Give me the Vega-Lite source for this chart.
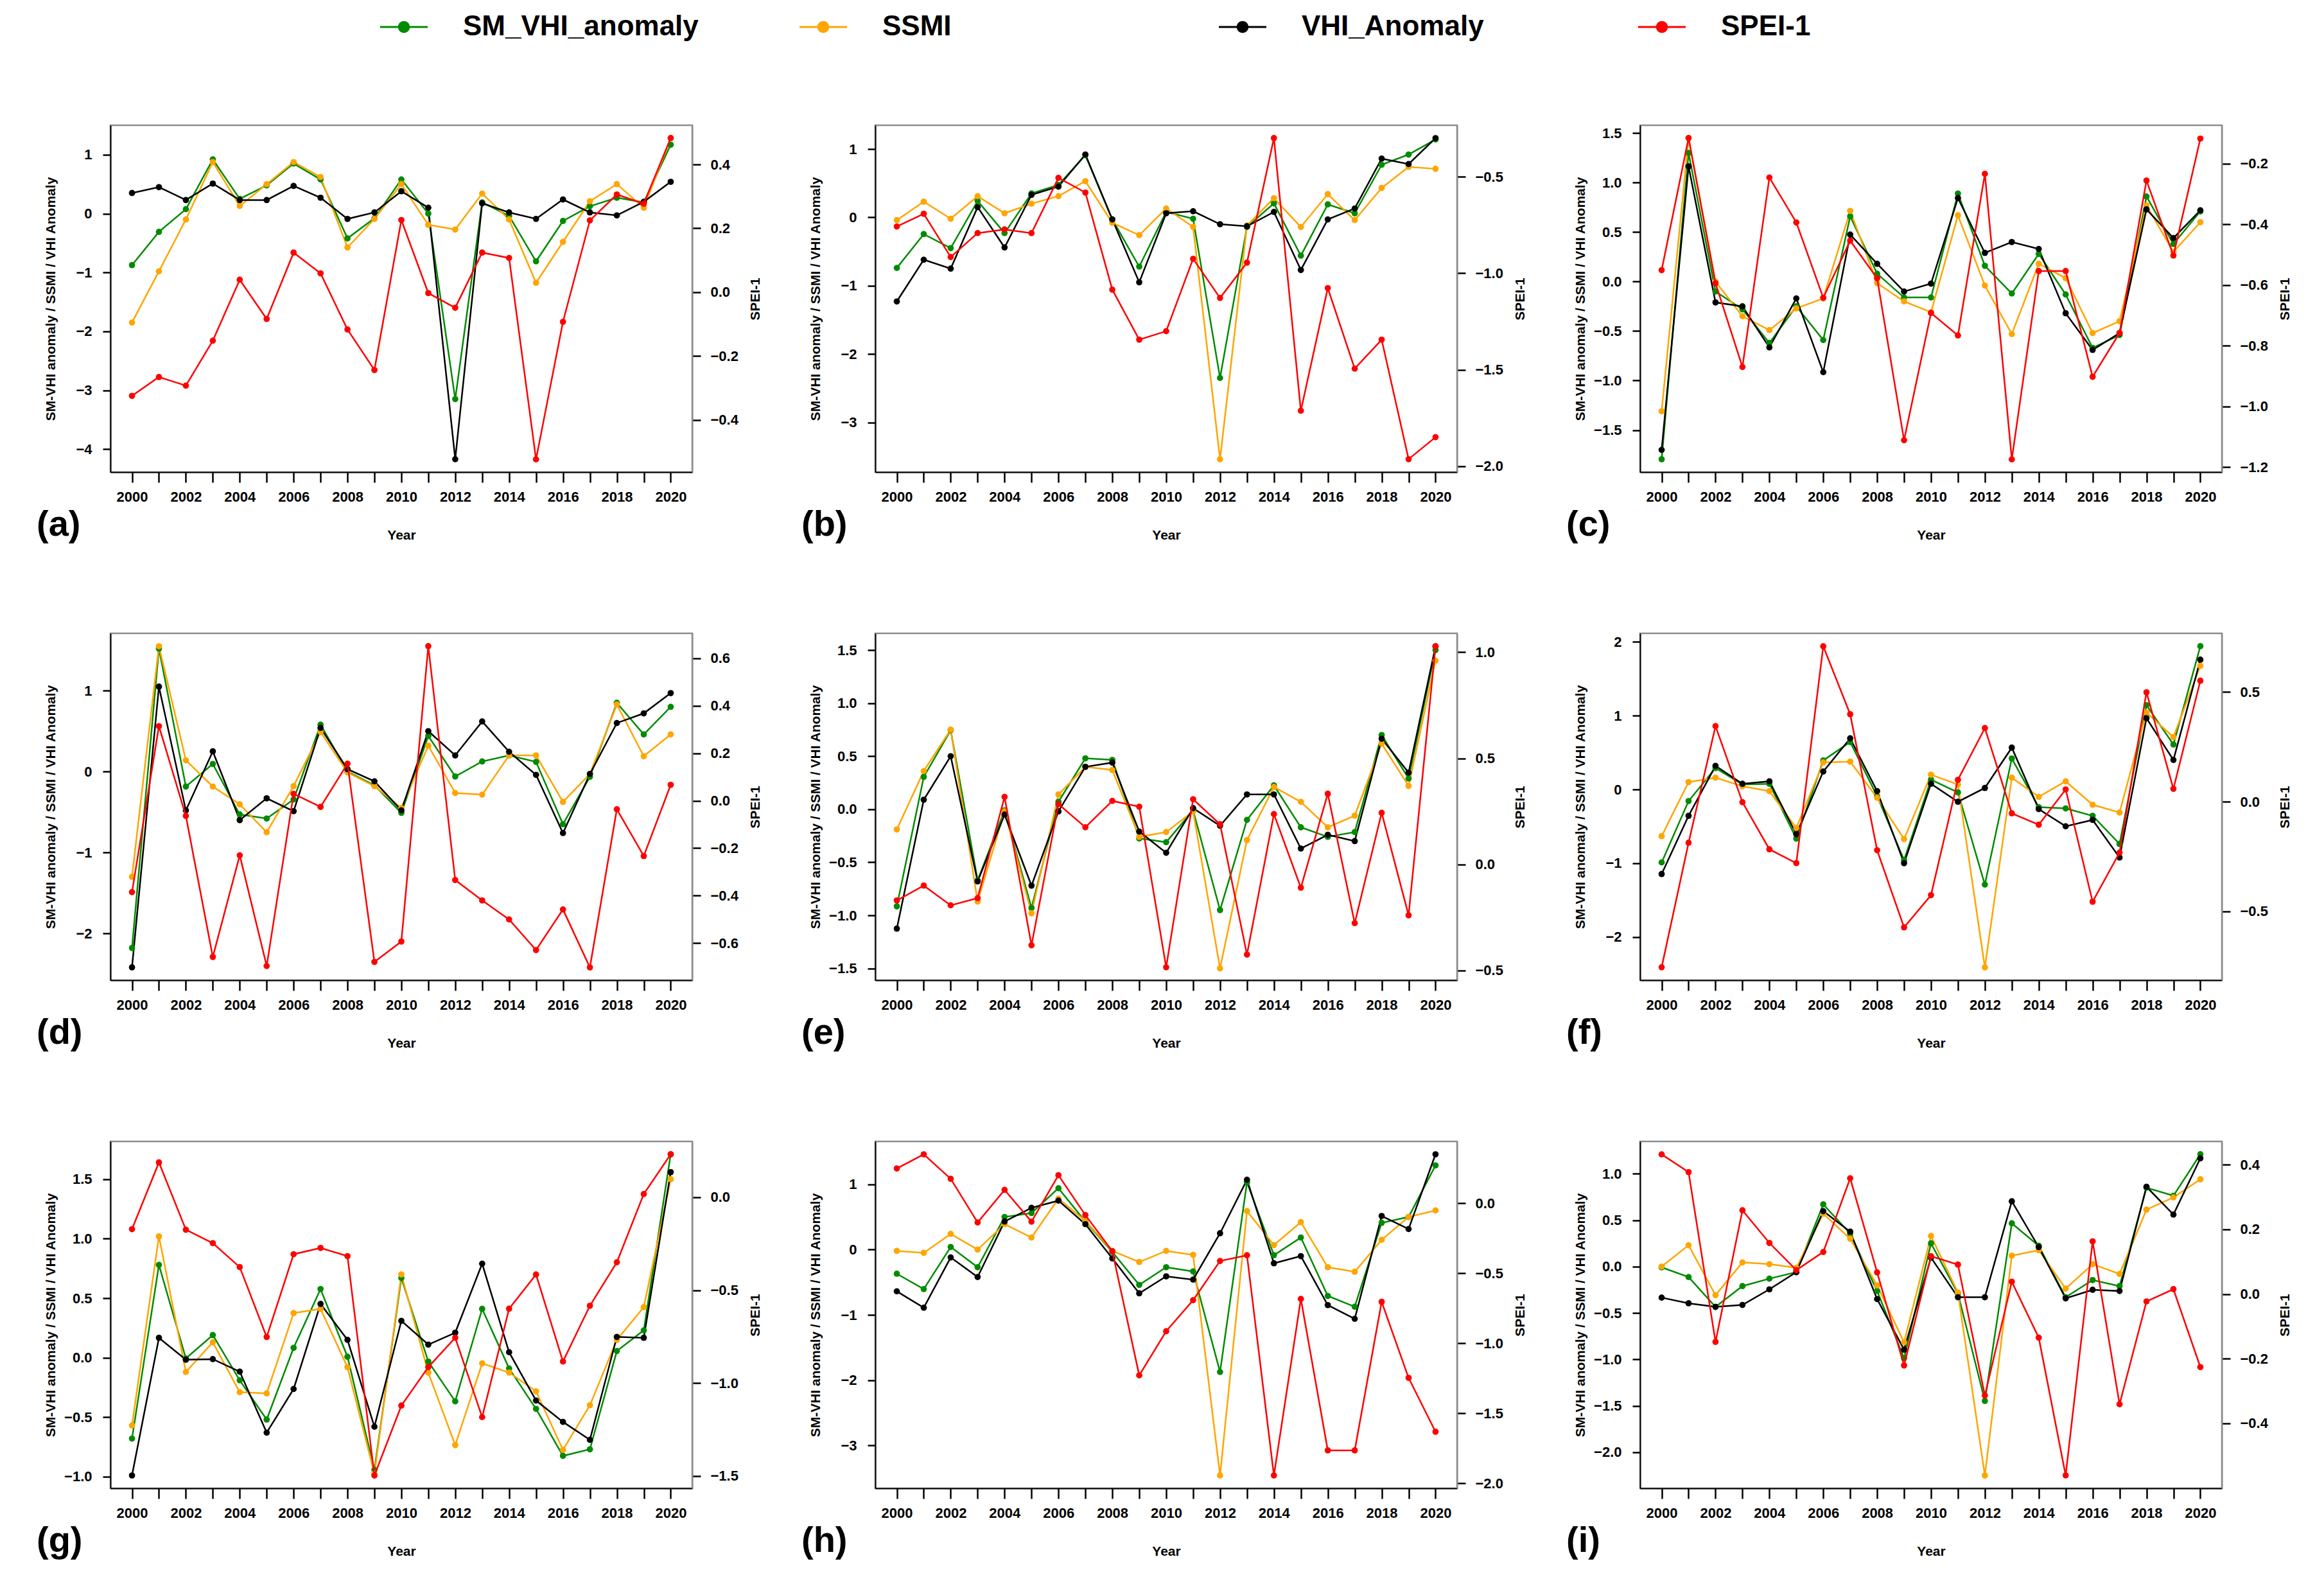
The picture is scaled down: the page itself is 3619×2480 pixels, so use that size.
{
"$schema": "https://vega.github.io/schema/vega-lite/v6.json",
"padding": {"left": 55, "top": 5, "right": 10, "bottom": 10},
"background": "white",
"data": {"values": [
{"p":"a","year":2000,"SM_VHI_anomaly":-0.875,"SSMI":-1.85,"VHI_Anomaly":0.35,"SPEI-1":-0.325},
{"p":"a","year":2001,"SM_VHI_anomaly":-0.31,"SSMI":-0.98,"VHI_Anomaly":0.45,"SPEI-1":-0.266},
{"p":"a","year":2002,"SM_VHI_anomaly":0.075,"SSMI":-0.1,"VHI_Anomaly":0.23,"SPEI-1":-0.293},
{"p":"a","year":2003,"SM_VHI_anomaly":0.92,"SSMI":0.875,"VHI_Anomaly":0.51,"SPEI-1":-0.152},
{"p":"a","year":2004,"SM_VHI_anomaly":0.25,"SSMI":0.13,"VHI_Anomaly":0.23,"SPEI-1":0.039},
{"p":"a","year":2005,"SM_VHI_anomaly":0.48,"SSMI":0.5,"VHI_Anomaly":0.23,"SPEI-1":-0.084},
{"p":"a","year":2006,"SM_VHI_anomaly":0.85,"SSMI":0.875,"VHI_Anomaly":0.47,"SPEI-1":0.124},
{"p":"a","year":2007,"SM_VHI_anomaly":0.58,"SSMI":0.62,"VHI_Anomaly":0.27,"SPEI-1":0.059},
{"p":"a","year":2008,"SM_VHI_anomaly":-0.42,"SSMI":-0.575,"VHI_Anomaly":-0.09,"SPEI-1":-0.117},
{"p":"a","year":2009,"SM_VHI_anomaly":-0.08,"SSMI":-0.09,"VHI_Anomaly":0.02,"SPEI-1":-0.244},
{"p":"a","year":2010,"SM_VHI_anomaly":0.58,"SSMI":0.5,"VHI_Anomaly":0.38,"SPEI-1":0.226},
{"p":"a","year":2011,"SM_VHI_anomaly":0.0,"SSMI":-0.19,"VHI_Anomaly":0.1,"SPEI-1":-0.003},
{"p":"a","year":2012,"SM_VHI_anomaly":-3.15,"SSMI":-0.27,"VHI_Anomaly":-4.17,"SPEI-1":-0.049},
{"p":"a","year":2013,"SM_VHI_anomaly":0.19,"SSMI":0.34,"VHI_Anomaly":0.175,"SPEI-1":0.124},
{"p":"a","year":2014,"SM_VHI_anomaly":-0.04,"SSMI":-0.1,"VHI_Anomaly":0.02,"SPEI-1":0.107},
{"p":"a","year":2015,"SM_VHI_anomaly":-0.81,"SSMI":-1.175,"VHI_Anomaly":-0.09,"SPEI-1":-0.524},
{"p":"a","year":2016,"SM_VHI_anomaly":-0.125,"SSMI":-0.48,"VHI_Anomaly":0.24,"SPEI-1":-0.093},
{"p":"a","year":2017,"SM_VHI_anomaly":0.125,"SSMI":0.21,"VHI_Anomaly":0.02,"SPEI-1":0.225},
{"p":"a","year":2018,"SM_VHI_anomaly":0.27,"SSMI":0.5,"VHI_Anomaly":-0.03,"SPEI-1":0.306},
{"p":"a","year":2019,"SM_VHI_anomaly":0.19,"SSMI":0.1,"VHI_Anomaly":0.2,"SPEI-1":0.277},
{"p":"a","year":2020,"SM_VHI_anomaly":1.17,"SSMI":1.28,"VHI_Anomaly":0.54,"SPEI-1":0.483},
{"p":"b","year":2000,"SM_VHI_anomaly":-0.74,"SSMI":-0.04,"VHI_Anomaly":-1.23,"SPEI-1":-0.758},
{"p":"b","year":2001,"SM_VHI_anomaly":-0.245,"SSMI":0.23,"VHI_Anomaly":-0.62,"SPEI-1":-0.692},
{"p":"b","year":2002,"SM_VHI_anomaly":-0.45,"SSMI":-0.02,"VHI_Anomaly":-0.75,"SPEI-1":-0.916},
{"p":"b","year":2003,"SM_VHI_anomaly":0.24,"SSMI":0.31,"VHI_Anomaly":0.15,"SPEI-1":-0.792},
{"p":"b","year":2004,"SM_VHI_anomaly":-0.23,"SSMI":0.06,"VHI_Anomaly":-0.44,"SPEI-1":-0.773},
{"p":"b","year":2005,"SM_VHI_anomaly":0.35,"SSMI":0.2,"VHI_Anomaly":0.33,"SPEI-1":-0.792},
{"p":"b","year":2006,"SM_VHI_anomaly":0.475,"SSMI":0.31,"VHI_Anomaly":0.45,"SPEI-1":-0.506},
{"p":"b","year":2007,"SM_VHI_anomaly":0.91,"SSMI":0.53,"VHI_Anomaly":0.92,"SPEI-1":-0.582},
{"p":"b","year":2008,"SM_VHI_anomaly":-0.03,"SSMI":-0.08,"VHI_Anomaly":-0.03,"SPEI-1":-1.085},
{"p":"b","year":2009,"SM_VHI_anomaly":-0.72,"SSMI":-0.26,"VHI_Anomaly":-0.95,"SPEI-1":-1.344},
{"p":"b","year":2010,"SM_VHI_anomaly":0.08,"SSMI":0.13,"VHI_Anomaly":0.06,"SPEI-1":-1.3},
{"p":"b","year":2011,"SM_VHI_anomaly":-0.02,"SSMI":-0.14,"VHI_Anomaly":0.09,"SPEI-1":-0.925},
{"p":"b","year":2012,"SM_VHI_anomaly":-2.35,"SSMI":-3.54,"VHI_Anomaly":-0.1,"SPEI-1":-1.128},
{"p":"b","year":2013,"SM_VHI_anomaly":-0.14,"SSMI":-0.12,"VHI_Anomaly":-0.13,"SPEI-1":-0.945},
{"p":"b","year":2014,"SM_VHI_anomaly":0.205,"SSMI":0.28,"VHI_Anomaly":0.08,"SPEI-1":-0.3},
{"p":"b","year":2015,"SM_VHI_anomaly":-0.56,"SSMI":-0.14,"VHI_Anomaly":-0.77,"SPEI-1":-1.712},
{"p":"b","year":2016,"SM_VHI_anomaly":0.19,"SSMI":0.34,"VHI_Anomaly":-0.03,"SPEI-1":-1.077},
{"p":"b","year":2017,"SM_VHI_anomaly":0.06,"SSMI":-0.04,"VHI_Anomaly":0.13,"SPEI-1":-1.494},
{"p":"b","year":2018,"SM_VHI_anomaly":0.77,"SSMI":0.43,"VHI_Anomaly":0.86,"SPEI-1":-1.344},
{"p":"b","year":2019,"SM_VHI_anomaly":0.92,"SSMI":0.74,"VHI_Anomaly":0.78,"SPEI-1":-1.963},
{"p":"b","year":2020,"SM_VHI_anomaly":1.14,"SSMI":0.71,"VHI_Anomaly":1.16,"SPEI-1":-1.849},
{"p":"c","year":2000,"SM_VHI_anomaly":-1.795,"SSMI":-1.31,"VHI_Anomaly":-1.7,"SPEI-1":-0.551},
{"p":"c","year":2001,"SM_VHI_anomaly":1.3,"SSMI":1.45,"VHI_Anomaly":1.165,"SPEI-1":-0.116},
{"p":"c","year":2002,"SM_VHI_anomaly":-0.1,"SSMI":0.0,"VHI_Anomaly":-0.21,"SPEI-1":-0.594},
{"p":"c","year":2003,"SM_VHI_anomaly":-0.28,"SSMI":-0.35,"VHI_Anomaly":-0.25,"SPEI-1":-0.87},
{"p":"c","year":2004,"SM_VHI_anomaly":-0.62,"SSMI":-0.49,"VHI_Anomaly":-0.665,"SPEI-1":-0.246},
{"p":"c","year":2005,"SM_VHI_anomaly":-0.25,"SSMI":-0.27,"VHI_Anomaly":-0.17,"SPEI-1":-0.394},
{"p":"c","year":2006,"SM_VHI_anomaly":-0.59,"SSMI":-0.17,"VHI_Anomaly":-0.915,"SPEI-1":-0.642},
{"p":"c","year":2007,"SM_VHI_anomaly":0.66,"SSMI":0.715,"VHI_Anomaly":0.475,"SPEI-1":-0.454},
{"p":"c","year":2008,"SM_VHI_anomaly":0.08,"SSMI":-0.015,"VHI_Anomaly":0.18,"SPEI-1":-0.578},
{"p":"c","year":2009,"SM_VHI_anomaly":-0.16,"SSMI":-0.2,"VHI_Anomaly":-0.1,"SPEI-1":-1.111},
{"p":"c","year":2010,"SM_VHI_anomaly":-0.16,"SSMI":-0.31,"VHI_Anomaly":-0.02,"SPEI-1":-0.692},
{"p":"c","year":2011,"SM_VHI_anomaly":0.89,"SSMI":0.67,"VHI_Anomaly":0.845,"SPEI-1":-0.766},
{"p":"c","year":2012,"SM_VHI_anomaly":0.16,"SSMI":-0.04,"VHI_Anomaly":0.29,"SPEI-1":-0.234},
{"p":"c","year":2013,"SM_VHI_anomaly":-0.12,"SSMI":-0.53,"VHI_Anomaly":0.4,"SPEI-1":-1.174},
{"p":"c","year":2014,"SM_VHI_anomaly":0.28,"SSMI":0.18,"VHI_Anomaly":0.33,"SPEI-1":-0.554},
{"p":"c","year":2015,"SM_VHI_anomaly":-0.13,"SSMI":0.035,"VHI_Anomaly":-0.32,"SPEI-1":-0.554},
{"p":"c","year":2016,"SM_VHI_anomaly":-0.67,"SSMI":-0.52,"VHI_Anomaly":-0.69,"SPEI-1":-0.902},
{"p":"c","year":2017,"SM_VHI_anomaly":-0.54,"SSMI":-0.4,"VHI_Anomaly":-0.52,"SPEI-1":-0.758},
{"p":"c","year":2018,"SM_VHI_anomaly":0.86,"SSMI":0.77,"VHI_Anomaly":0.73,"SPEI-1":-0.256},
{"p":"c","year":2019,"SM_VHI_anomaly":0.38,"SSMI":0.3,"VHI_Anomaly":0.44,"SPEI-1":-0.503},
{"p":"c","year":2020,"SM_VHI_anomaly":0.71,"SSMI":0.6,"VHI_Anomaly":0.72,"SPEI-1":-0.118},
{"p":"d","year":2000,"SM_VHI_anomaly":-2.18,"SSMI":-1.3,"VHI_Anomaly":-2.42,"SPEI-1":-0.385},
{"p":"d","year":2001,"SM_VHI_anomaly":1.52,"SSMI":1.55,"VHI_Anomaly":1.05,"SPEI-1":0.314},
{"p":"d","year":2002,"SM_VHI_anomaly":-0.185,"SSMI":0.14,"VHI_Anomaly":-0.48,"SPEI-1":-0.064},
{"p":"d","year":2003,"SM_VHI_anomaly":0.095,"SSMI":-0.185,"VHI_Anomaly":0.25,"SPEI-1":-0.658},
{"p":"d","year":2004,"SM_VHI_anomaly":-0.53,"SSMI":-0.405,"VHI_Anomaly":-0.6,"SPEI-1":-0.23},
{"p":"d","year":2005,"SM_VHI_anomaly":-0.58,"SSMI":-0.75,"VHI_Anomaly":-0.33,"SPEI-1":-0.696},
{"p":"d","year":2006,"SM_VHI_anomaly":-0.345,"SSMI":-0.18,"VHI_Anomaly":-0.49,"SPEI-1":0.029},
{"p":"d","year":2007,"SM_VHI_anomaly":0.58,"SSMI":0.49,"VHI_Anomaly":0.54,"SPEI-1":-0.026},
{"p":"d","year":2008,"SM_VHI_anomaly":0.0,"SSMI":-0.01,"VHI_Anomaly":0.03,"SPEI-1":0.156},
{"p":"d","year":2009,"SM_VHI_anomaly":-0.17,"SSMI":-0.18,"VHI_Anomaly":-0.12,"SPEI-1":-0.679},
{"p":"d","year":2010,"SM_VHI_anomaly":-0.51,"SSMI":-0.45,"VHI_Anomaly":-0.48,"SPEI-1":-0.593},
{"p":"d","year":2011,"SM_VHI_anomaly":0.44,"SSMI":0.32,"VHI_Anomaly":0.5,"SPEI-1":0.651},
{"p":"d","year":2012,"SM_VHI_anomaly":-0.06,"SSMI":-0.265,"VHI_Anomaly":0.2,"SPEI-1":-0.334},
{"p":"d","year":2013,"SM_VHI_anomaly":0.125,"SSMI":-0.285,"VHI_Anomaly":0.62,"SPEI-1":-0.42},
{"p":"d","year":2014,"SM_VHI_anomaly":0.2,"SSMI":0.2,"VHI_Anomaly":0.245,"SPEI-1":-0.5},
{"p":"d","year":2015,"SM_VHI_anomaly":0.12,"SSMI":0.2,"VHI_Anomaly":-0.04,"SPEI-1":-0.629},
{"p":"d","year":2016,"SM_VHI_anomaly":-0.65,"SSMI":-0.375,"VHI_Anomaly":-0.76,"SPEI-1":-0.458},
{"p":"d","year":2017,"SM_VHI_anomaly":-0.065,"SSMI":-0.03,"VHI_Anomaly":-0.03,"SPEI-1":-0.702},
{"p":"d","year":2018,"SM_VHI_anomaly":0.85,"SSMI":0.83,"VHI_Anomaly":0.6,"SPEI-1":-0.036},
{"p":"d","year":2019,"SM_VHI_anomaly":0.46,"SSMI":0.19,"VHI_Anomaly":0.72,"SPEI-1":-0.233},
{"p":"d","year":2020,"SM_VHI_anomaly":0.8,"SSMI":0.46,"VHI_Anomaly":0.97,"SPEI-1":0.067},
{"p":"e","year":2000,"SM_VHI_anomaly":-0.915,"SSMI":-0.19,"VHI_Anomaly":-1.125,"SPEI-1":-0.17},
{"p":"e","year":2001,"SM_VHI_anomaly":0.305,"SSMI":0.36,"VHI_Anomaly":0.09,"SPEI-1":-0.1},
{"p":"e","year":2002,"SM_VHI_anomaly":0.745,"SSMI":0.75,"VHI_Anomaly":0.5,"SPEI-1":-0.193},
{"p":"e","year":2003,"SM_VHI_anomaly":-0.67,"SSMI":-0.87,"VHI_Anomaly":-0.68,"SPEI-1":-0.159},
{"p":"e","year":2004,"SM_VHI_anomaly":-0.01,"SSMI":-0.02,"VHI_Anomaly":-0.05,"SPEI-1":0.318},
{"p":"e","year":2005,"SM_VHI_anomaly":-0.93,"SSMI":-0.98,"VHI_Anomaly":-0.72,"SPEI-1":-0.381},
{"p":"e","year":2006,"SM_VHI_anomaly":0.07,"SSMI":0.14,"VHI_Anomaly":-0.02,"SPEI-1":0.284},
{"p":"e","year":2007,"SM_VHI_anomaly":0.48,"SSMI":0.4,"VHI_Anomaly":0.4,"SPEI-1":0.175},
{"p":"e","year":2008,"SM_VHI_anomaly":0.465,"SSMI":0.37,"VHI_Anomaly":0.44,"SPEI-1":0.299},
{"p":"e","year":2009,"SM_VHI_anomaly":-0.275,"SSMI":-0.26,"VHI_Anomaly":-0.21,"SPEI-1":0.272},
{"p":"e","year":2010,"SM_VHI_anomaly":-0.31,"SSMI":-0.215,"VHI_Anomaly":-0.41,"SPEI-1":-0.485},
{"p":"e","year":2011,"SM_VHI_anomaly":-0.01,"SSMI":-0.02,"VHI_Anomaly":0.01,"SPEI-1":0.307},
{"p":"e","year":2012,"SM_VHI_anomaly":-0.95,"SSMI":-1.5,"VHI_Anomaly":-0.155,"SPEI-1":0.189},
{"p":"e","year":2013,"SM_VHI_anomaly":-0.1,"SSMI":-0.29,"VHI_Anomaly":0.14,"SPEI-1":-0.425},
{"p":"e","year":2014,"SM_VHI_anomaly":0.225,"SSMI":0.21,"VHI_Anomaly":0.14,"SPEI-1":0.237},
{"p":"e","year":2015,"SM_VHI_anomaly":-0.17,"SSMI":0.07,"VHI_Anomaly":-0.37,"SPEI-1":-0.11},
{"p":"e","year":2016,"SM_VHI_anomaly":-0.26,"SSMI":-0.17,"VHI_Anomaly":-0.24,"SPEI-1":0.333},
{"p":"e","year":2017,"SM_VHI_anomaly":-0.215,"SSMI":-0.06,"VHI_Anomaly":-0.3,"SPEI-1":-0.277},
{"p":"e","year":2018,"SM_VHI_anomaly":0.7,"SSMI":0.62,"VHI_Anomaly":0.665,"SPEI-1":0.243},
{"p":"e","year":2019,"SM_VHI_anomaly":0.29,"SSMI":0.22,"VHI_Anomaly":0.345,"SPEI-1":-0.24},
{"p":"e","year":2020,"SM_VHI_anomaly":1.5,"SSMI":1.4,"VHI_Anomaly":1.535,"SPEI-1":1.028},
{"p":"f","year":2000,"SM_VHI_anomaly":-0.99,"SSMI":-0.633,"VHI_Anomaly":-1.147,"SPEI-1":-0.755},
{"p":"f","year":2001,"SM_VHI_anomaly":-0.157,"SSMI":0.1,"VHI_Anomaly":-0.357,"SPEI-1":-0.187},
{"p":"f","year":2002,"SM_VHI_anomaly":0.29,"SSMI":0.16,"VHI_Anomaly":0.32,"SPEI-1":0.345},
{"p":"f","year":2003,"SM_VHI_anomaly":0.067,"SSMI":0.043,"VHI_Anomaly":0.077,"SPEI-1":-0.002},
{"p":"f","year":2004,"SM_VHI_anomaly":0.077,"SSMI":-0.023,"VHI_Anomaly":0.11,"SPEI-1":-0.217},
{"p":"f","year":2005,"SM_VHI_anomaly":-0.667,"SSMI":-0.523,"VHI_Anomaly":-0.607,"SPEI-1":-0.28},
{"p":"f","year":2006,"SM_VHI_anomaly":0.393,"SSMI":0.367,"VHI_Anomaly":0.243,"SPEI-1":0.709},
{"p":"f","year":2007,"SM_VHI_anomaly":0.643,"SSMI":0.377,"VHI_Anomaly":0.693,"SPEI-1":0.399},
{"p":"f","year":2008,"SM_VHI_anomaly":-0.09,"SSMI":-0.113,"VHI_Anomaly":-0.023,"SPEI-1":-0.221},
{"p":"f","year":2009,"SM_VHI_anomaly":-0.957,"SSMI":-0.673,"VHI_Anomaly":-1.0,"SPEI-1":-0.573},
{"p":"f","year":2010,"SM_VHI_anomaly":0.133,"SSMI":0.2,"VHI_Anomaly":0.077,"SPEI-1":-0.426},
{"p":"f","year":2011,"SM_VHI_anomaly":-0.04,"SSMI":0.067,"VHI_Anomaly":-0.167,"SPEI-1":0.1},
{"p":"f","year":2012,"SM_VHI_anomaly":-1.29,"SSMI":-2.413,"VHI_Anomaly":0.02,"SPEI-1":0.336},
{"p":"f","year":2013,"SM_VHI_anomaly":0.42,"SSMI":0.16,"VHI_Anomaly":0.567,"SPEI-1":-0.053},
{"p":"f","year":2014,"SM_VHI_anomaly":-0.24,"SSMI":-0.1,"VHI_Anomaly":-0.267,"SPEI-1":-0.105},
{"p":"f","year":2015,"SM_VHI_anomaly":-0.257,"SSMI":0.11,"VHI_Anomaly":-0.5,"SPEI-1":0.056},
{"p":"f","year":2016,"SM_VHI_anomaly":-0.357,"SSMI":-0.207,"VHI_Anomaly":-0.413,"SPEI-1":-0.456},
{"p":"f","year":2017,"SM_VHI_anomaly":-0.74,"SSMI":-0.313,"VHI_Anomaly":-0.923,"SPEI-1":-0.232},
{"p":"f","year":2018,"SM_VHI_anomaly":1.143,"SSMI":1.043,"VHI_Anomaly":0.967,"SPEI-1":0.499},
{"p":"f","year":2019,"SM_VHI_anomaly":0.61,"SSMI":0.71,"VHI_Anomaly":0.4,"SPEI-1":0.059},
{"p":"f","year":2020,"SM_VHI_anomaly":1.943,"SSMI":1.677,"VHI_Anomaly":1.76,"SPEI-1":0.552},
{"p":"g","year":2000,"SM_VHI_anomaly":-0.68,"SSMI":-0.57,"VHI_Anomaly":-0.99,"SPEI-1":-0.172},
{"p":"g","year":2001,"SM_VHI_anomaly":0.78,"SSMI":1.02,"VHI_Anomaly":0.167,"SPEI-1":0.187},
{"p":"g","year":2002,"SM_VHI_anomaly":-0.006,"SSMI":-0.12,"VHI_Anomaly":-0.017,"SPEI-1":-0.175},
{"p":"g","year":2003,"SM_VHI_anomaly":0.19,"SSMI":0.13,"VHI_Anomaly":-0.012,"SPEI-1":-0.247},
{"p":"g","year":2004,"SM_VHI_anomaly":-0.19,"SSMI":-0.29,"VHI_Anomaly":-0.117,"SPEI-1":-0.376},
{"p":"g","year":2005,"SM_VHI_anomaly":-0.52,"SSMI":-0.3,"VHI_Anomaly":-0.63,"SPEI-1":-0.752},
{"p":"g","year":2006,"SM_VHI_anomaly":0.083,"SSMI":0.375,"VHI_Anomaly":-0.263,"SPEI-1":-0.307},
{"p":"g","year":2007,"SM_VHI_anomaly":0.577,"SSMI":0.41,"VHI_Anomaly":0.452,"SPEI-1":-0.273},
{"p":"g","year":2008,"SM_VHI_anomaly":0.008,"SSMI":-0.08,"VHI_Anomaly":0.15,"SPEI-1":-0.317},
{"p":"g","year":2009,"SM_VHI_anomaly":-0.944,"SSMI":-0.975,"VHI_Anomaly":-0.58,"SPEI-1":-1.497},
{"p":"g","year":2010,"SM_VHI_anomaly":0.67,"SSMI":0.7,"VHI_Anomaly":0.31,"SPEI-1":-1.121},
{"p":"g","year":2011,"SM_VHI_anomaly":-0.033,"SSMI":-0.125,"VHI_Anomaly":0.11,"SPEI-1":-0.914},
{"p":"g","year":2012,"SM_VHI_anomaly":-0.367,"SSMI":-0.735,"VHI_Anomaly":0.21,"SPEI-1":-0.756},
{"p":"g","year":2013,"SM_VHI_anomaly":0.41,"SSMI":-0.048,"VHI_Anomaly":0.79,"SPEI-1":-1.183},
{"p":"g","year":2014,"SM_VHI_anomaly":-0.09,"SSMI":-0.125,"VHI_Anomaly":0.046,"SPEI-1":-0.6},
{"p":"g","year":2015,"SM_VHI_anomaly":-0.43,"SSMI":-0.283,"VHI_Anomaly":-0.36,"SPEI-1":-0.416},
{"p":"g","year":2016,"SM_VHI_anomaly":-0.825,"SSMI":-0.775,"VHI_Anomaly":-0.54,"SPEI-1":-0.884},
{"p":"g","year":2017,"SM_VHI_anomaly":-0.77,"SSMI":-0.4,"VHI_Anomaly":-0.69,"SPEI-1":-0.584},
{"p":"g","year":2018,"SM_VHI_anomaly":0.056,"SSMI":0.15,"VHI_Anomaly":0.175,"SPEI-1":-0.35},
{"p":"g","year":2019,"SM_VHI_anomaly":0.23,"SSMI":0.425,"VHI_Anomaly":0.167,"SPEI-1":0.017},
{"p":"g","year":2020,"SM_VHI_anomaly":1.71,"SSMI":1.5,"VHI_Anomaly":1.56,"SPEI-1":0.231},
{"p":"h","year":2000,"SM_VHI_anomaly":-0.37,"SSMI":-0.02,"VHI_Anomaly":-0.64,"SPEI-1":0.249},
{"p":"h","year":2001,"SM_VHI_anomaly":-0.605,"SSMI":-0.05,"VHI_Anomaly":-0.89,"SPEI-1":0.35},
{"p":"h","year":2002,"SM_VHI_anomaly":0.04,"SSMI":0.24,"VHI_Anomaly":-0.12,"SPEI-1":0.175},
{"p":"h","year":2003,"SM_VHI_anomaly":-0.27,"SSMI":0.0,"VHI_Anomaly":-0.42,"SPEI-1":-0.137},
{"p":"h","year":2004,"SM_VHI_anomaly":0.5,"SSMI":0.39,"VHI_Anomaly":0.43,"SPEI-1":0.096},
{"p":"h","year":2005,"SM_VHI_anomaly":0.56,"SSMI":0.185,"VHI_Anomaly":0.64,"SPEI-1":-0.131},
{"p":"h","year":2006,"SM_VHI_anomaly":0.94,"SSMI":0.78,"VHI_Anomaly":0.75,"SPEI-1":0.201},
{"p":"h","year":2007,"SM_VHI_anomaly":0.43,"SSMI":0.44,"VHI_Anomaly":0.39,"SPEI-1":-0.084},
{"p":"h","year":2008,"SM_VHI_anomaly":-0.035,"SSMI":-0.02,"VHI_Anomaly":-0.135,"SPEI-1":-0.342},
{"p":"h","year":2009,"SM_VHI_anomaly":-0.54,"SSMI":-0.19,"VHI_Anomaly":-0.67,"SPEI-1":-1.229},
{"p":"h","year":2010,"SM_VHI_anomaly":-0.27,"SSMI":-0.02,"VHI_Anomaly":-0.41,"SPEI-1":-0.914},
{"p":"h","year":2011,"SM_VHI_anomaly":-0.335,"SSMI":-0.08,"VHI_Anomaly":-0.46,"SPEI-1":-0.692},
{"p":"h","year":2012,"SM_VHI_anomaly":-1.875,"SSMI":-3.46,"VHI_Anomaly":0.25,"SPEI-1":-0.412},
{"p":"h","year":2013,"SM_VHI_anomaly":1.03,"SSMI":0.59,"VHI_Anomaly":1.07,"SPEI-1":-0.371},
{"p":"h","year":2014,"SM_VHI_anomaly":-0.085,"SSMI":0.07,"VHI_Anomaly":-0.21,"SPEI-1":-1.944},
{"p":"h","year":2015,"SM_VHI_anomaly":0.185,"SSMI":0.42,"VHI_Anomaly":-0.1,"SPEI-1":-0.683},
{"p":"h","year":2016,"SM_VHI_anomaly":-0.71,"SSMI":-0.27,"VHI_Anomaly":-0.85,"SPEI-1":-1.765},
{"p":"h","year":2017,"SM_VHI_anomaly":-0.875,"SSMI":-0.34,"VHI_Anomaly":-1.06,"SPEI-1":-1.765},
{"p":"h","year":2018,"SM_VHI_anomaly":0.41,"SSMI":0.15,"VHI_Anomaly":0.515,"SPEI-1":-0.704},
{"p":"h","year":2019,"SM_VHI_anomaly":0.5,"SSMI":0.5,"VHI_Anomaly":0.315,"SPEI-1":-1.247},
{"p":"h","year":2020,"SM_VHI_anomaly":1.29,"SSMI":0.6,"VHI_Anomaly":1.46,"SPEI-1":-1.632},
{"p":"i","year":2000,"SM_VHI_anomaly":-0.008,"SSMI":0.0,"VHI_Anomaly":-0.334,"SPEI-1":0.432},
{"p":"i","year":2001,"SM_VHI_anomaly":-0.113,"SSMI":0.23,"VHI_Anomaly":-0.395,"SPEI-1":0.377},
{"p":"i","year":2002,"SM_VHI_anomaly":-0.434,"SSMI":-0.308,"VHI_Anomaly":-0.434,"SPEI-1":-0.148},
{"p":"i","year":2003,"SM_VHI_anomaly":-0.21,"SSMI":0.045,"VHI_Anomaly":-0.413,"SPEI-1":0.259},
{"p":"i","year":2004,"SM_VHI_anomaly":-0.13,"SSMI":0.026,"VHI_Anomaly":-0.245,"SPEI-1":0.158},
{"p":"i","year":2005,"SM_VHI_anomaly":-0.06,"SSMI":-0.013,"VHI_Anomaly":-0.06,"SPEI-1":0.074},
{"p":"i","year":2006,"SM_VHI_anomaly":0.67,"SSMI":0.57,"VHI_Anomaly":0.597,"SPEI-1":0.13},
{"p":"i","year":2007,"SM_VHI_anomaly":0.355,"SSMI":0.3,"VHI_Anomaly":0.376,"SPEI-1":0.358},
{"p":"i","year":2008,"SM_VHI_anomaly":-0.263,"SSMI":-0.203,"VHI_Anomaly":-0.35,"SPEI-1":0.067},
{"p":"i","year":2009,"SM_VHI_anomaly":-0.987,"SSMI":-0.816,"VHI_Anomaly":-0.895,"SPEI-1":-0.221},
{"p":"i","year":2010,"SM_VHI_anomaly":0.25,"SSMI":0.33,"VHI_Anomaly":0.097,"SPEI-1":0.117},
{"p":"i","year":2011,"SM_VHI_anomaly":-0.29,"SSMI":-0.28,"VHI_Anomaly":-0.33,"SPEI-1":0.091},
{"p":"i","year":2012,"SM_VHI_anomaly":-1.447,"SSMI":-2.25,"VHI_Anomaly":-0.33,"SPEI-1":-0.314},
{"p":"i","year":2013,"SM_VHI_anomaly":0.466,"SSMI":0.118,"VHI_Anomaly":0.703,"SPEI-1":0.038},
{"p":"i","year":2014,"SM_VHI_anomaly":0.224,"SSMI":0.176,"VHI_Anomaly":0.21,"SPEI-1":-0.135},
{"p":"i","year":2015,"SM_VHI_anomaly":-0.33,"SSMI":-0.237,"VHI_Anomaly":-0.342,"SPEI-1":-0.561},
{"p":"i","year":2016,"SM_VHI_anomaly":-0.145,"SSMI":0.026,"VHI_Anomaly":-0.25,"SPEI-1":0.163},
{"p":"i","year":2017,"SM_VHI_anomaly":-0.21,"SSMI":-0.079,"VHI_Anomaly":-0.263,"SPEI-1":-0.341},
{"p":"i","year":2018,"SM_VHI_anomaly":0.85,"SSMI":0.613,"VHI_Anomaly":0.86,"SPEI-1":-0.023},
{"p":"i","year":2019,"SM_VHI_anomaly":0.763,"SSMI":0.745,"VHI_Anomaly":0.56,"SPEI-1":0.015},
{"p":"i","year":2020,"SM_VHI_anomaly":1.21,"SSMI":0.94,"VHI_Anomaly":1.166,"SPEI-1":-0.226}
]},
"columns": 3,
"spacing": {"row": 137, "column": 58},
"concat": [
{"width":906,"height":540,"title":"(a)","transform":[{"filter":"datum.p==='a'"}],"layer":[
 {"transform":[{"fold":["SM_VHI_anomaly","SSMI","VHI_Anomaly"],"as":["series","value"]}],"mark":{"type":"line","strokeWidth":2.5,"point":{"filled":true,"size":95,"opacity":1}},
  "encoding":{"x":{"field":"year","type":"quantitative","scale":{"domain":[1999.2,2020.8],"nice":false,"zero":false},"axis":{"title":"Year","values":[2000,2001,2002,2003,2004,2005,2006,2007,2008,2009,2010,2011,2012,2013,2014,2015,2016,2017,2018,2019,2020],"format":"d","labelExpr":"datum.value % 2 === 0 ? datum.label : ''"}},
  "y":{"field":"value","type":"quantitative","scale":{"domain":[-4.39,1.5],"nice":false,"zero":false},"axis":{"title":"SM-VHI anomaly / SSMI / VHI Anomaly","values":[-4,-3,-2,-1,0,1],"format":"d"}},
  "color":{"field":"series","type":"nominal","scale":{"domain":["SM_VHI_anomaly","SSMI","VHI_Anomaly","SPEI-1"],"range":["#008B00","#FFA500","#000000","#FF0000"]},"legend":{"title":null,"orient":"none","legendX":420,"legendY":-190,"symbolType":"M-1,-0.04L1,-0.04L1,0.04L-1,0.04Z M0.25,0A0.25,0.25 0 1,1 -0.25,0A0.25,0.25 0 1,1 0.25,0Z","encode":{"symbols":{"update":{"fill":{"scale":"color","field":"value"},"opacity":{"value":1}}}}}}}},
 {"transform":[{"fold":["SPEI-1"],"as":["series","value"]}],"mark":{"type":"line","strokeWidth":2.5,"point":{"filled":true,"size":95,"opacity":1}},
  "encoding":{"x":{"field":"year","type":"quantitative","scale":{"domain":[1999.2,2020.8],"nice":false,"zero":false},"axis":{"title":"Year","values":[2000,2001,2002,2003,2004,2005,2006,2007,2008,2009,2010,2011,2012,2013,2014,2015,2016,2017,2018,2019,2020],"format":"d","labelExpr":"datum.value % 2 === 0 ? datum.label : ''"}},
  "y":{"field":"value","type":"quantitative","scale":{"domain":[-0.564,0.523],"nice":false,"zero":false},"axis":{"orient":"right","title":"SPEI-1","values":[-0.4,-0.2,0,0.2,0.4],"format":".1f"}},
  "color":{"field":"series","type":"nominal","legend":{"title":null,"orient":"none","legendX":420,"legendY":-190,"symbolType":"M-1,-0.04L1,-0.04L1,0.04L-1,0.04Z M0.25,0A0.25,0.25 0 1,1 -0.25,0A0.25,0.25 0 1,1 0.25,0Z","encode":{"symbols":{"update":{"fill":{"scale":"color","field":"value"},"opacity":{"value":1}}}}}}}}
 ],"resolve":{"scale":{"y":"independent"}}},
{"width":906,"height":540,"title":"(b)","transform":[{"filter":"datum.p==='b'"}],"layer":[
 {"transform":[{"fold":["SM_VHI_anomaly","SSMI","VHI_Anomaly"],"as":["series","value"]}],"mark":{"type":"line","strokeWidth":2.5,"point":{"filled":true,"size":95,"opacity":1}},
  "encoding":{"x":{"field":"year","type":"quantitative","scale":{"domain":[1999.2,2020.8],"nice":false,"zero":false},"axis":{"title":"Year","values":[2000,2001,2002,2003,2004,2005,2006,2007,2008,2009,2010,2011,2012,2013,2014,2015,2016,2017,2018,2019,2020],"format":"d","labelExpr":"datum.value % 2 === 0 ? datum.label : ''"}},
  "y":{"field":"value","type":"quantitative","scale":{"domain":[-3.728,1.348],"nice":false,"zero":false},"axis":{"title":"SM-VHI anomaly / SSMI / VHI Anomaly","values":[-3,-2,-1,0,1],"format":"d"}},
  "color":{"field":"series","type":"nominal","legend":{"title":null,"orient":"none","legendX":420,"legendY":-190,"symbolType":"M-1,-0.04L1,-0.04L1,0.04L-1,0.04Z M0.25,0A0.25,0.25 0 1,1 -0.25,0A0.25,0.25 0 1,1 0.25,0Z","encode":{"symbols":{"update":{"fill":{"scale":"color","field":"value"},"opacity":{"value":1}}}}}}}},
 {"transform":[{"fold":["SPEI-1"],"as":["series","value"]}],"mark":{"type":"line","strokeWidth":2.5,"point":{"filled":true,"size":95,"opacity":1}},
  "encoding":{"x":{"field":"year","type":"quantitative","scale":{"domain":[1999.2,2020.8],"nice":false,"zero":false},"axis":{"title":"Year","values":[2000,2001,2002,2003,2004,2005,2006,2007,2008,2009,2010,2011,2012,2013,2014,2015,2016,2017,2018,2019,2020],"format":"d","labelExpr":"datum.value % 2 === 0 ? datum.label : ''"}},
  "y":{"field":"value","type":"quantitative","scale":{"domain":[-2.03,-0.2335],"nice":false,"zero":false},"axis":{"orient":"right","title":"SPEI-1","values":[-2,-1.5,-1,-0.5],"format":".1f"}},
  "color":{"field":"series","type":"nominal","legend":{"title":null,"orient":"none","legendX":420,"legendY":-190,"symbolType":"M-1,-0.04L1,-0.04L1,0.04L-1,0.04Z M0.25,0A0.25,0.25 0 1,1 -0.25,0A0.25,0.25 0 1,1 0.25,0Z","encode":{"symbols":{"update":{"fill":{"scale":"color","field":"value"},"opacity":{"value":1}}}}}}}}
 ],"resolve":{"scale":{"y":"independent"}}},
{"width":906,"height":540,"title":"(c)","transform":[{"filter":"datum.p==='c'"}],"layer":[
 {"transform":[{"fold":["SM_VHI_anomaly","SSMI","VHI_Anomaly"],"as":["series","value"]}],"mark":{"type":"line","strokeWidth":2.5,"point":{"filled":true,"size":95,"opacity":1}},
  "encoding":{"x":{"field":"year","type":"quantitative","scale":{"domain":[1999.2,2020.8],"nice":false,"zero":false},"axis":{"title":"Year","values":[2000,2001,2002,2003,2004,2005,2006,2007,2008,2009,2010,2011,2012,2013,2014,2015,2016,2017,2018,2019,2020],"format":"d","labelExpr":"datum.value % 2 === 0 ? datum.label : ''"}},
  "y":{"field":"value","type":"quantitative","scale":{"domain":[-1.925,1.58],"nice":false,"zero":false},"axis":{"title":"SM-VHI anomaly / SSMI / VHI Anomaly","values":[-1.5,-1,-0.5,0,0.5,1,1.5],"format":".1f"}},
  "color":{"field":"series","type":"nominal","legend":{"title":null,"orient":"none","legendX":420,"legendY":-190,"symbolType":"M-1,-0.04L1,-0.04L1,0.04L-1,0.04Z M0.25,0A0.25,0.25 0 1,1 -0.25,0A0.25,0.25 0 1,1 0.25,0Z","encode":{"symbols":{"update":{"fill":{"scale":"color","field":"value"},"opacity":{"value":1}}}}}}}},
 {"transform":[{"fold":["SPEI-1"],"as":["series","value"]}],"mark":{"type":"line","strokeWidth":2.5,"point":{"filled":true,"size":95,"opacity":1}},
  "encoding":{"x":{"field":"year","type":"quantitative","scale":{"domain":[1999.2,2020.8],"nice":false,"zero":false},"axis":{"title":"Year","values":[2000,2001,2002,2003,2004,2005,2006,2007,2008,2009,2010,2011,2012,2013,2014,2015,2016,2017,2018,2019,2020],"format":"d","labelExpr":"datum.value % 2 === 0 ? datum.label : ''"}},
  "y":{"field":"value","type":"quantitative","scale":{"domain":[-1.216,-0.074],"nice":false,"zero":false},"axis":{"orient":"right","title":"SPEI-1","values":[-1.2,-1,-0.8,-0.6,-0.4,-0.2],"format":".1f"}},
  "color":{"field":"series","type":"nominal","legend":{"title":null,"orient":"none","legendX":420,"legendY":-190,"symbolType":"M-1,-0.04L1,-0.04L1,0.04L-1,0.04Z M0.25,0A0.25,0.25 0 1,1 -0.25,0A0.25,0.25 0 1,1 0.25,0Z","encode":{"symbols":{"update":{"fill":{"scale":"color","field":"value"},"opacity":{"value":1}}}}}}}}
 ],"resolve":{"scale":{"y":"independent"}}},
{"width":906,"height":540,"title":"(d)","transform":[{"filter":"datum.p==='d'"}],"layer":[
 {"transform":[{"fold":["SM_VHI_anomaly","SSMI","VHI_Anomaly"],"as":["series","value"]}],"mark":{"type":"line","strokeWidth":2.5,"point":{"filled":true,"size":95,"opacity":1}},
  "encoding":{"x":{"field":"year","type":"quantitative","scale":{"domain":[1999.2,2020.8],"nice":false,"zero":false},"axis":{"title":"Year","values":[2000,2001,2002,2003,2004,2005,2006,2007,2008,2009,2010,2011,2012,2013,2014,2015,2016,2017,2018,2019,2020],"format":"d","labelExpr":"datum.value % 2 === 0 ? datum.label : ''"}},
  "y":{"field":"value","type":"quantitative","scale":{"domain":[-2.579,1.709],"nice":false,"zero":false},"axis":{"title":"SM-VHI anomaly / SSMI / VHI Anomaly","values":[-2,-1,0,1],"format":"d"}},
  "color":{"field":"series","type":"nominal","legend":{"title":null,"orient":"none","legendX":420,"legendY":-190,"symbolType":"M-1,-0.04L1,-0.04L1,0.04L-1,0.04Z M0.25,0A0.25,0.25 0 1,1 -0.25,0A0.25,0.25 0 1,1 0.25,0Z","encode":{"symbols":{"update":{"fill":{"scale":"color","field":"value"},"opacity":{"value":1}}}}}}}},
 {"transform":[{"fold":["SPEI-1"],"as":["series","value"]}],"mark":{"type":"line","strokeWidth":2.5,"point":{"filled":true,"size":95,"opacity":1}},
  "encoding":{"x":{"field":"year","type":"quantitative","scale":{"domain":[1999.2,2020.8],"nice":false,"zero":false},"axis":{"title":"Year","values":[2000,2001,2002,2003,2004,2005,2006,2007,2008,2009,2010,2011,2012,2013,2014,2015,2016,2017,2018,2019,2020],"format":"d","labelExpr":"datum.value % 2 === 0 ? datum.label : ''"}},
  "y":{"field":"value","type":"quantitative","scale":{"domain":[-0.756,0.705],"nice":false,"zero":false},"axis":{"orient":"right","title":"SPEI-1","values":[-0.6,-0.4,-0.2,0,0.2,0.4,0.6],"format":".1f"}},
  "color":{"field":"series","type":"nominal","legend":{"title":null,"orient":"none","legendX":420,"legendY":-190,"symbolType":"M-1,-0.04L1,-0.04L1,0.04L-1,0.04Z M0.25,0A0.25,0.25 0 1,1 -0.25,0A0.25,0.25 0 1,1 0.25,0Z","encode":{"symbols":{"update":{"fill":{"scale":"color","field":"value"},"opacity":{"value":1}}}}}}}}
 ],"resolve":{"scale":{"y":"independent"}}},
{"width":906,"height":540,"title":"(e)","transform":[{"filter":"datum.p==='e'"}],"layer":[
 {"transform":[{"fold":["SM_VHI_anomaly","SSMI","VHI_Anomaly"],"as":["series","value"]}],"mark":{"type":"line","strokeWidth":2.5,"point":{"filled":true,"size":95,"opacity":1}},
  "encoding":{"x":{"field":"year","type":"quantitative","scale":{"domain":[1999.2,2020.8],"nice":false,"zero":false},"axis":{"title":"Year","values":[2000,2001,2002,2003,2004,2005,2006,2007,2008,2009,2010,2011,2012,2013,2014,2015,2016,2017,2018,2019,2020],"format":"d","labelExpr":"datum.value % 2 === 0 ? datum.label : ''"}},
  "y":{"field":"value","type":"quantitative","scale":{"domain":[-1.611,1.658],"nice":false,"zero":false},"axis":{"title":"SM-VHI anomaly / SSMI / VHI Anomaly","values":[-1.5,-1,-0.5,0,0.5,1,1.5],"format":".1f"}},
  "color":{"field":"series","type":"nominal","legend":{"title":null,"orient":"none","legendX":420,"legendY":-190,"symbolType":"M-1,-0.04L1,-0.04L1,0.04L-1,0.04Z M0.25,0A0.25,0.25 0 1,1 -0.25,0A0.25,0.25 0 1,1 0.25,0Z","encode":{"symbols":{"update":{"fill":{"scale":"color","field":"value"},"opacity":{"value":1}}}}}}}},
 {"transform":[{"fold":["SPEI-1"],"as":["series","value"]}],"mark":{"type":"line","strokeWidth":2.5,"point":{"filled":true,"size":95,"opacity":1}},
  "encoding":{"x":{"field":"year","type":"quantitative","scale":{"domain":[1999.2,2020.8],"nice":false,"zero":false},"axis":{"title":"Year","values":[2000,2001,2002,2003,2004,2005,2006,2007,2008,2009,2010,2011,2012,2013,2014,2015,2016,2017,2018,2019,2020],"format":"d","labelExpr":"datum.value % 2 === 0 ? datum.label : ''"}},
  "y":{"field":"value","type":"quantitative","scale":{"domain":[-0.546,1.089],"nice":false,"zero":false},"axis":{"orient":"right","title":"SPEI-1","values":[-0.5,0,0.5,1],"format":".1f"}},
  "color":{"field":"series","type":"nominal","legend":{"title":null,"orient":"none","legendX":420,"legendY":-190,"symbolType":"M-1,-0.04L1,-0.04L1,0.04L-1,0.04Z M0.25,0A0.25,0.25 0 1,1 -0.25,0A0.25,0.25 0 1,1 0.25,0Z","encode":{"symbols":{"update":{"fill":{"scale":"color","field":"value"},"opacity":{"value":1}}}}}}}}
 ],"resolve":{"scale":{"y":"independent"}}},
{"width":906,"height":540,"title":"(f)","transform":[{"filter":"datum.p==='f'"}],"layer":[
 {"transform":[{"fold":["SM_VHI_anomaly","SSMI","VHI_Anomaly"],"as":["series","value"]}],"mark":{"type":"line","strokeWidth":2.5,"point":{"filled":true,"size":95,"opacity":1}},
  "encoding":{"x":{"field":"year","type":"quantitative","scale":{"domain":[1999.2,2020.8],"nice":false,"zero":false},"axis":{"title":"Year","values":[2000,2001,2002,2003,2004,2005,2006,2007,2008,2009,2010,2011,2012,2013,2014,2015,2016,2017,2018,2019,2020],"format":"d","labelExpr":"datum.value % 2 === 0 ? datum.label : ''"}},
  "y":{"field":"value","type":"quantitative","scale":{"domain":[-2.587,2.117],"nice":false,"zero":false},"axis":{"title":"SM-VHI anomaly / SSMI / VHI Anomaly","values":[-2,-1,0,1,2],"format":"d"}},
  "color":{"field":"series","type":"nominal","legend":{"title":null,"orient":"none","legendX":420,"legendY":-190,"symbolType":"M-1,-0.04L1,-0.04L1,0.04L-1,0.04Z M0.25,0A0.25,0.25 0 1,1 -0.25,0A0.25,0.25 0 1,1 0.25,0Z","encode":{"symbols":{"update":{"fill":{"scale":"color","field":"value"},"opacity":{"value":1}}}}}}}},
 {"transform":[{"fold":["SPEI-1"],"as":["series","value"]}],"mark":{"type":"line","strokeWidth":2.5,"point":{"filled":true,"size":95,"opacity":1}},
  "encoding":{"x":{"field":"year","type":"quantitative","scale":{"domain":[1999.2,2020.8],"nice":false,"zero":false},"axis":{"title":"Year","values":[2000,2001,2002,2003,2004,2005,2006,2007,2008,2009,2010,2011,2012,2013,2014,2015,2016,2017,2018,2019,2020],"format":"d","labelExpr":"datum.value % 2 === 0 ? datum.label : ''"}},
  "y":{"field":"value","type":"quantitative","scale":{"domain":[-0.814,0.768],"nice":false,"zero":false},"axis":{"orient":"right","title":"SPEI-1","values":[-0.5,0,0.5],"format":".1f"}},
  "color":{"field":"series","type":"nominal","legend":{"title":null,"orient":"none","legendX":420,"legendY":-190,"symbolType":"M-1,-0.04L1,-0.04L1,0.04L-1,0.04Z M0.25,0A0.25,0.25 0 1,1 -0.25,0A0.25,0.25 0 1,1 0.25,0Z","encode":{"symbols":{"update":{"fill":{"scale":"color","field":"value"},"opacity":{"value":1}}}}}}}}
 ],"resolve":{"scale":{"y":"independent"}}},
{"width":906,"height":540,"title":"(g)","transform":[{"filter":"datum.p==='g'"}],"layer":[
 {"transform":[{"fold":["SM_VHI_anomaly","SSMI","VHI_Anomaly"],"as":["series","value"]}],"mark":{"type":"line","strokeWidth":2.5,"point":{"filled":true,"size":95,"opacity":1}},
  "encoding":{"x":{"field":"year","type":"quantitative","scale":{"domain":[1999.2,2020.8],"nice":false,"zero":false},"axis":{"title":"Year","values":[2000,2001,2002,2003,2004,2005,2006,2007,2008,2009,2010,2011,2012,2013,2014,2015,2016,2017,2018,2019,2020],"format":"d","labelExpr":"datum.value % 2 === 0 ? datum.label : ''"}},
  "y":{"field":"value","type":"quantitative","scale":{"domain":[-1.098,1.818],"nice":false,"zero":false},"axis":{"title":"SM-VHI anomaly / SSMI / VHI Anomaly","values":[-1,-0.5,0,0.5,1,1.5],"format":".1f"}},
  "color":{"field":"series","type":"nominal","legend":{"title":null,"orient":"none","legendX":420,"legendY":-190,"symbolType":"M-1,-0.04L1,-0.04L1,0.04L-1,0.04Z M0.25,0A0.25,0.25 0 1,1 -0.25,0A0.25,0.25 0 1,1 0.25,0Z","encode":{"symbols":{"update":{"fill":{"scale":"color","field":"value"},"opacity":{"value":1}}}}}}}},
 {"transform":[{"fold":["SPEI-1"],"as":["series","value"]}],"mark":{"type":"line","strokeWidth":2.5,"point":{"filled":true,"size":95,"opacity":1}},
  "encoding":{"x":{"field":"year","type":"quantitative","scale":{"domain":[1999.2,2020.8],"nice":false,"zero":false},"axis":{"title":"Year","values":[2000,2001,2002,2003,2004,2005,2006,2007,2008,2009,2010,2011,2012,2013,2014,2015,2016,2017,2018,2019,2020],"format":"d","labelExpr":"datum.value % 2 === 0 ? datum.label : ''"}},
  "y":{"field":"value","type":"quantitative","scale":{"domain":[-1.566,0.3],"nice":false,"zero":false},"axis":{"orient":"right","title":"SPEI-1","values":[-1.5,-1,-0.5,0],"format":".1f"}},
  "color":{"field":"series","type":"nominal","legend":{"title":null,"orient":"none","legendX":420,"legendY":-190,"symbolType":"M-1,-0.04L1,-0.04L1,0.04L-1,0.04Z M0.25,0A0.25,0.25 0 1,1 -0.25,0A0.25,0.25 0 1,1 0.25,0Z","encode":{"symbols":{"update":{"fill":{"scale":"color","field":"value"},"opacity":{"value":1}}}}}}}}
 ],"resolve":{"scale":{"y":"independent"}}},
{"width":906,"height":540,"title":"(h)","transform":[{"filter":"datum.p==='h'"}],"layer":[
 {"transform":[{"fold":["SM_VHI_anomaly","SSMI","VHI_Anomaly"],"as":["series","value"]}],"mark":{"type":"line","strokeWidth":2.5,"point":{"filled":true,"size":95,"opacity":1}},
  "encoding":{"x":{"field":"year","type":"quantitative","scale":{"domain":[1999.2,2020.8],"nice":false,"zero":false},"axis":{"title":"Year","values":[2000,2001,2002,2003,2004,2005,2006,2007,2008,2009,2010,2011,2012,2013,2014,2015,2016,2017,2018,2019,2020],"format":"d","labelExpr":"datum.value % 2 === 0 ? datum.label : ''"}},
  "y":{"field":"value","type":"quantitative","scale":{"domain":[-3.657,1.657],"nice":false,"zero":false},"axis":{"title":"SM-VHI anomaly / SSMI / VHI Anomaly","values":[-3,-2,-1,0,1],"format":"d"}},
  "color":{"field":"series","type":"nominal","legend":{"title":null,"orient":"none","legendX":420,"legendY":-190,"symbolType":"M-1,-0.04L1,-0.04L1,0.04L-1,0.04Z M0.25,0A0.25,0.25 0 1,1 -0.25,0A0.25,0.25 0 1,1 0.25,0Z","encode":{"symbols":{"update":{"fill":{"scale":"color","field":"value"},"opacity":{"value":1}}}}}}}},
 {"transform":[{"fold":["SPEI-1"],"as":["series","value"]}],"mark":{"type":"line","strokeWidth":2.5,"point":{"filled":true,"size":95,"opacity":1}},
  "encoding":{"x":{"field":"year","type":"quantitative","scale":{"domain":[1999.2,2020.8],"nice":false,"zero":false},"axis":{"title":"Year","values":[2000,2001,2002,2003,2004,2005,2006,2007,2008,2009,2010,2011,2012,2013,2014,2015,2016,2017,2018,2019,2020],"format":"d","labelExpr":"datum.value % 2 === 0 ? datum.label : ''"}},
  "y":{"field":"value","type":"quantitative","scale":{"domain":[-2.036,0.442],"nice":false,"zero":false},"axis":{"orient":"right","title":"SPEI-1","values":[-2,-1.5,-1,-0.5,0],"format":".1f"}},
  "color":{"field":"series","type":"nominal","legend":{"title":null,"orient":"none","legendX":420,"legendY":-190,"symbolType":"M-1,-0.04L1,-0.04L1,0.04L-1,0.04Z M0.25,0A0.25,0.25 0 1,1 -0.25,0A0.25,0.25 0 1,1 0.25,0Z","encode":{"symbols":{"update":{"fill":{"scale":"color","field":"value"},"opacity":{"value":1}}}}}}}}
 ],"resolve":{"scale":{"y":"independent"}}},
{"width":906,"height":540,"title":"(i)","transform":[{"filter":"datum.p==='i'"}],"layer":[
 {"transform":[{"fold":["SM_VHI_anomaly","SSMI","VHI_Anomaly"],"as":["series","value"]}],"mark":{"type":"line","strokeWidth":2.5,"point":{"filled":true,"size":95,"opacity":1}},
  "encoding":{"x":{"field":"year","type":"quantitative","scale":{"domain":[1999.2,2020.8],"nice":false,"zero":false},"axis":{"title":"Year","values":[2000,2001,2002,2003,2004,2005,2006,2007,2008,2009,2010,2011,2012,2013,2014,2015,2016,2017,2018,2019,2020],"format":"d","labelExpr":"datum.value % 2 === 0 ? datum.label : ''"}},
  "y":{"field":"value","type":"quantitative","scale":{"domain":[-2.388,1.348],"nice":false,"zero":false},"axis":{"title":"SM-VHI anomaly / SSMI / VHI Anomaly","values":[-2,-1.5,-1,-0.5,0,0.5,1],"format":".1f"}},
  "color":{"field":"series","type":"nominal","legend":{"title":null,"orient":"none","legendX":420,"legendY":-190,"symbolType":"M-1,-0.04L1,-0.04L1,0.04L-1,0.04Z M0.25,0A0.25,0.25 0 1,1 -0.25,0A0.25,0.25 0 1,1 0.25,0Z","encode":{"symbols":{"update":{"fill":{"scale":"color","field":"value"},"opacity":{"value":1}}}}}}}},
 {"transform":[{"fold":["SPEI-1"],"as":["series","value"]}],"mark":{"type":"line","strokeWidth":2.5,"point":{"filled":true,"size":95,"opacity":1}},
  "encoding":{"x":{"field":"year","type":"quantitative","scale":{"domain":[1999.2,2020.8],"nice":false,"zero":false},"axis":{"title":"Year","values":[2000,2001,2002,2003,2004,2005,2006,2007,2008,2009,2010,2011,2012,2013,2014,2015,2016,2017,2018,2019,2020],"format":"d","labelExpr":"datum.value % 2 === 0 ? datum.label : ''"}},
  "y":{"field":"value","type":"quantitative","scale":{"domain":[-0.601,0.472],"nice":false,"zero":false},"axis":{"orient":"right","title":"SPEI-1","values":[-0.4,-0.2,0,0.2,0.4],"format":".1f"}},
  "color":{"field":"series","type":"nominal","legend":{"title":null,"orient":"none","legendX":420,"legendY":-190,"symbolType":"M-1,-0.04L1,-0.04L1,0.04L-1,0.04Z M0.25,0A0.25,0.25 0 1,1 -0.25,0A0.25,0.25 0 1,1 0.25,0Z","encode":{"symbols":{"update":{"fill":{"scale":"color","field":"value"},"opacity":{"value":1}}}}}}}}
 ],"resolve":{"scale":{"y":"independent"}}}
],
"config": {
 "font": "Liberation Sans",
 "view": {"stroke": "#8c8c8c", "strokeWidth": 2.5},
 "axis": {"grid": false, "labelFont": "Liberation Sans", "labelFontSize": 22, "labelFontWeight": "bold", "labelColor": "#000000", "titleFont": "Liberation Sans", "titleFontSize": 21, "titleFontWeight": "bold", "titleColor": "#000000", "domainColor": "#000000", "domainWidth": 2, "tickColor": "#000000", "tickWidth": 2.5},
 "axisX": {"tickSize": 16, "labelPadding": 12, "titlePadding": 35, "minExtent": 52, "maxExtent": 52, "labelFlush": false, "labelOverlap": false},
 "axisLeft": {"tickSize": 12, "labelPadding": 17, "minExtent": 60, "maxExtent": 60, "titlePadding": 23},
 "axisRight": {"tickSize": 13, "labelPadding": 15, "minExtent": 60, "maxExtent": 60, "titlePadding": 27, "titleAngle": 270, "titleBaseline": "top", "domainColor": "#8c8c8c"},
 "title": {"font": "Liberation Sans", "fontSize": 56, "fontWeight": "bold", "color": "#000000", "orient": "bottom", "anchor": "start", "frame": "bounds", "offset": -53, "dx": -11},
 "legend": {"direction": "horizontal", "gridAlign": "all", "columnPadding": 157, "labelFont": "Liberation Sans", "labelFontSize": 44, "labelFontWeight": "bold", "labelColor": "#000000", "labelOffset": 55, "labelLimit": 0, "symbolSize": 5476, "symbolStrokeWidth": 0}
}
}
